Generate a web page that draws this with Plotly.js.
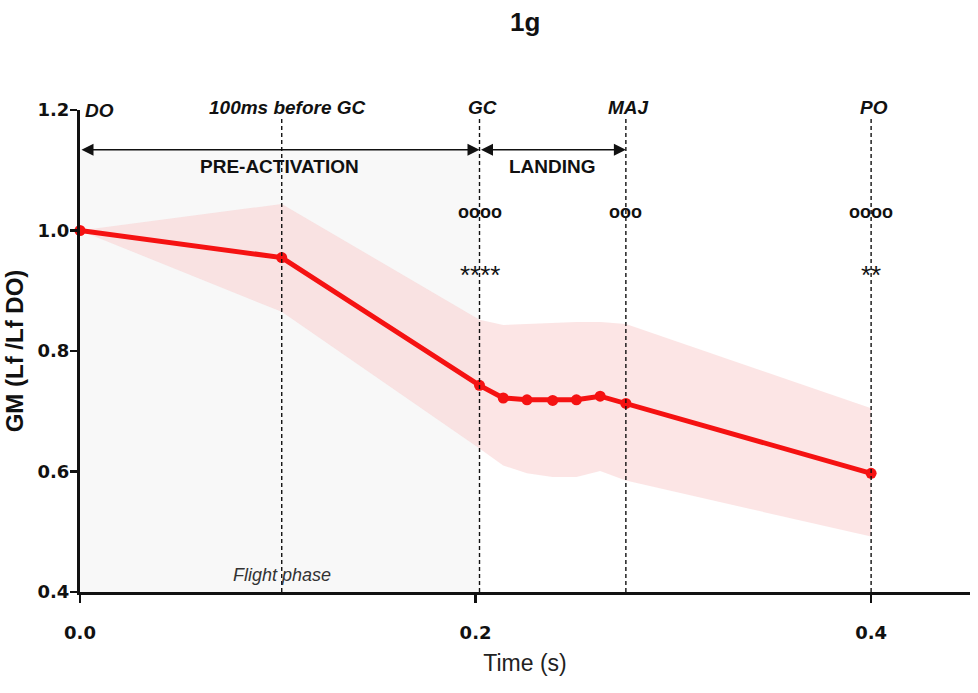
<!DOCTYPE html>
<html>
<head>
<meta charset="utf-8">
<script src="https://cdn.plot.ly/plotly-3.0.1.min.js"></script>
<style>html,body{margin:0;padding:0;background:#fff;}</style>
</head>
<body>
<div id="chart" style="width:978px;height:693px;"></div>
<script>
// ---- data ----
const times = [0, 0.102, 0.202, 0.214, 0.226, 0.239, 0.251, 0.263, 0.276, 0.4];
const meanGM = [1.0, 0.955, 0.743, 0.722, 0.719, 0.718, 0.719, 0.725, 0.713, 0.597];
const upperGM = [1.0, 1.044, 0.852, 0.843, 0.845, 0.847, 0.848, 0.848, 0.845, 0.705];
const lowerGM = [1.0, 0.865, 0.638, 0.610, 0.597, 0.591, 0.591, 0.601, 0.585, 0.492];

const eventLabels = ["DO", "100ms before GC", "GC", "MAJ", "PO"];
const eventIndex = [0, 1, 2, 8, 9];
const sigCircles = ["", "", "oooo", "ooo", "oooo"];
const sigStars = ["", "", "****", "", "**"];
const phaseLabels = ["PRE-ACTIVATION", "LANDING"];
const phaseStart = ["DO", "GC"];
const phaseEnd = ["GC", "MAJ"];

const xTicks = [0, 0.2, 0.4];
const yTicks = [0.4, 0.6, 0.8, 1.0, 1.2];

// ---- derived ----
const evT = eventIndex.map(i => times[i]);
const tOf = name => evT[eventLabels.indexOf(name)];

const FONT = "Liberation Sans, Arial, Helvetica, sans-serif";
const TICKFONT = "DejaVu Sans, Liberation Sans, Arial, sans-serif";
const arrowY = 1.134;
const lineTop = 1.185;

const bandX = times.concat(times.slice().reverse());
const bandY = upperGM.concat(lowerGM.slice().reverse());

const traces = [
  {
    x: bandX, y: bandY, type: "scatter", mode: "lines",
    fill: "toself", fillcolor: "rgba(250,204,204,0.5)",
    line: {width: 0}, hoverinfo: "skip", showlegend: false
  },
  {
    x: times, y: meanGM, type: "scatter", mode: "lines+markers",
    line: {color: "rgb(245,18,18)", width: 5},
    marker: {color: "rgb(245,18,18)", size: 11},
    showlegend: false, cliponaxis: false
  }
];

const shapes = [
  { type: "rect", xref: "x", yref: "y", x0: tOf("DO"), x1: tOf("GC"), y0: 0.4, y1: arrowY,
    fillcolor: "#f8f8f8", line: {width: 0}, layer: "below" }
];
evT.forEach((t, i) => {
  if (i === 0) return;
  shapes.push({ type: "line", xref: "x", yref: "y", x0: t, x1: t, y0: 0.4, y1: lineTop,
    line: {color: "#111", width: 1.4, dash: "4px,3px"}, layer: "above" });
});

const annotations = [];
eventLabels.forEach((lab, i) => {
  annotations.push({
    x: evT[i], y: 1.2, xref: "x", yref: "y", text: "<b><i>" + lab + "</i></b>",
    showarrow: false, xanchor: i === 0 ? "left" : "center", yanchor: "middle",
    xshift: i === 1 ? 6 : 3, yshift: i === 0 ? 0 : 3,
    font: {family: FONT, size: 19, color: "#111"}
  });
  if (sigCircles[i]) annotations.push({
    x: evT[i], y: 1.03, xref: "x", yref: "y", text: "<b>" + sigCircles[i] + "</b>",
    showarrow: false, xanchor: "center", yanchor: "middle",
    font: {family: FONT, size: 18, color: "#111"}
  });
  if (sigStars[i]) annotations.push({
    x: evT[i], y: 0.926, xref: "x", yref: "y", text: sigStars[i],
    showarrow: false, xanchor: "center", yanchor: "middle",
    font: {family: FONT, size: 26, color: "#111"}
  });
});
phaseLabels.forEach((lab, i) => {
  const a = tOf(phaseStart[i]), b = tOf(phaseEnd[i]);
  annotations.push({
    x: b, y: arrowY, ax: a, ay: arrowY, xref: "x", yref: "y", axref: "x", ayref: "y",
    text: "", showarrow: true, arrowside: "end+start", arrowhead: 2, startarrowhead: 2,
    arrowsize: 1.6, startarrowsize: 1.6, arrowwidth: 1.5, arrowcolor: "#111",
    standoff: 0, startstandoff: 0
  });
  annotations.push({
    x: i === 0 ? tOf("100ms before GC") : (a + b) / 2, y: arrowY, xref: "x", yref: "y",
    text: "<b>" + lab + "</b>", showarrow: false, xanchor: "center", yanchor: "top",
    xshift: i === 0 ? -2 : 0, yshift: -4, font: {family: FONT, size: 19, color: "#111"}
  });
});
annotations.push({
  x: tOf("100ms before GC"), y: 0.4, xref: "x", yref: "y", text: "<i>Flight phase</i>",
  showarrow: false, xanchor: "center", yanchor: "bottom", yshift: 5, xshift: 0,
  font: {family: FONT, size: 18, color: "#333"}
});

const layout = {
  width: 978, height: 693,
  margin: {l: 80, r: 8, t: 110, b: 101},
  paper_bgcolor: "#fff", plot_bgcolor: "rgba(0,0,0,0)",
  title: {text: "<b>1g</b>", x: 0.537, xanchor: "center", y: 0.968, yanchor: "middle",
    font: {family: FONT, size: 26, color: "#111"}},
  xaxis: {
    range: [0, 0.45], tickvals: xTicks, tickformat: ".1f",
    showgrid: false, zeroline: false, showline: true, linecolor: "#111", linewidth: 3,
    ticks: "outside", ticklen: 8, tickwidth: 2.5, tickcolor: "#111",
    ticklabelstandoff: 14,
    tickfont: {family: TICKFONT, size: 18, color: "#111", weight: "bold"},
    title: {text: "Time (s)", standoff: 14, font: {family: FONT, size: 23, color: "#222"}}
  },
  yaxis: {
    range: [0.4, 1.2], tickvals: yTicks, tickformat: ".1f",
    showgrid: false, zeroline: false, showline: true, linecolor: "#111", linewidth: 3,
    ticks: "outside", ticklen: 7, tickwidth: 2.5, tickcolor: "#111",
    ticklabelstandoff: -3,
    tickfont: {family: TICKFONT, size: 18, color: "#111", weight: "bold"},
    title: {text: "<b>GM (Lf /Lf DO)</b>", standoff: 8, font: {family: FONT, size: 24, color: "#111"}}
  },
  shapes: shapes,
  annotations: annotations,
  showlegend: false
};

Plotly.newPlot("chart", traces, layout, {staticPlot: true, displayModeBar: false});
</script>
</body>
</html>
